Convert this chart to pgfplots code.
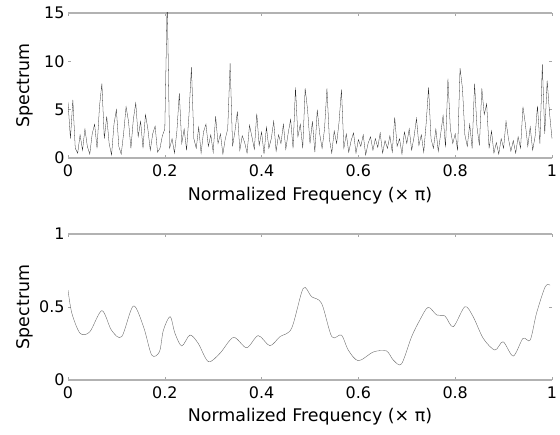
\documentclass[border=0pt]{standalone}
\usepackage{pgfplots}
\pgfplotsset{compat=1.18}
\usepackage{pgfplotstable}
\usepackage{fontspec}
\setmainfont{DejaVu Sans}
\pgfplotstableread{
x y
0.000 5.8
0.005 2.0
0.010 6.0
0.015 1.0
0.020 0.5
0.025 2.4
0.030 0.8
0.035 3.0
0.040 1.2
0.045 0.4
0.050 2.5
0.055 3.5
0.060 1.0
0.065 5.3
0.070 7.7
0.075 2.0
0.080 4.3
0.085 1.5
0.090 0.3
0.095 3.5
0.100 5.0
0.105 1.2
0.110 0.4
0.115 2.6
0.120 5.3
0.125 3.8
0.130 1.0
0.135 4.0
0.140 5.7
0.145 2.2
0.150 3.8
0.155 1.0
0.160 4.5
0.165 3.0
0.170 0.8
0.175 2.5
0.180 3.3
0.185 0.6
0.190 1.0
0.195 2.3
0.200 3.0
0.205 16.5
0.210 1.0
0.215 2.0
0.220 0.5
0.225 2.8
0.230 6.7
0.235 1.5
0.240 3.0
0.245 0.8
0.250 4.5
0.255 9.4
0.260 2.0
0.265 1.0
0.270 3.2
0.275 0.5
0.280 2.7
0.285 3.5
0.290 1.2
0.295 2.4
0.300 0.6
0.305 4.3
0.310 1.5
0.315 2.5
0.320 0.4
0.325 2.0
0.330 3.0
0.335 9.8
0.340 1.2
0.345 2.8
0.350 4.8
0.355 0.8
0.360 2.3
0.365 1.6
0.370 0.5
0.375 3.4
0.380 2.2
0.385 0.9
0.390 4.6
0.395 1.3
0.400 2.7
0.405 0.4
0.410 3.2
0.415 1.0
0.420 2.0
0.425 3.8
0.430 0.7
0.435 2.4
0.440 1.5
0.445 3.5
0.450 0.9
0.455 2.6
0.460 4.0
0.465 1.0
0.470 7.3
0.475 2.2
0.480 3.5
0.485 1.0
0.490 7.2
0.495 5.0
0.500 1.5
0.505 3.8
0.510 0.6
0.515 5.0
0.520 2.5
0.525 1.0
0.530 3.0
0.535 7.2
0.540 2.0
0.545 0.5
0.550 2.8
0.555 1.5
0.560 3.7
0.565 7.1
0.570 1.0
0.575 2.5
0.580 0.6
0.585 1.8
0.590 2.6
0.595 0.5
0.600 1.9
0.605 1.2
0.610 2.4
0.615 0.3
0.620 1.5
0.625 2.2
0.630 0.8
0.635 2.0
0.640 1.1
0.645 2.6
0.650 0.5
0.655 1.8
0.660 1.0
0.665 2.3
0.670 0.6
0.675 4.2
0.680 1.2
0.685 2.0
0.690 0.4
0.695 2.7
0.700 1.5
0.705 3.0
0.710 0.8
0.715 2.2
0.720 4.1
0.725 1.3
0.730 2.4
0.735 0.6
0.740 3.6
0.745 7.3
0.750 2.0
0.755 1.0
0.760 3.0
0.765 0.7
0.770 2.5
0.775 4.4
0.780 1.1
0.785 8.2
0.790 3.0
0.795 1.5
0.800 2.5
0.805 0.8
0.810 9.3
0.815 7.2
0.820 2.4
0.825 1.2
0.830 3.5
0.835 1.0
0.840 7.7
0.845 3.2
0.850 1.3
0.855 7.2
0.860 4.5
0.865 5.6
0.870 1.0
0.875 2.8
0.880 0.5
0.885 1.6
0.890 0.4
0.895 2.0
0.900 1.0
0.905 3.8
0.910 2.0
0.915 0.7
0.920 1.8
0.925 0.5
0.930 2.2
0.935 1.0
0.940 5.3
0.945 3.5
0.950 1.2
0.955 3.2
0.960 0.8
0.965 2.2
0.970 5.4
0.975 1.5
0.980 9.7
0.985 2.5
0.990 8.0
0.995 4.6
1.000 2.0
}\periodogram
\pgfplotstableread{
x y
0.000 0.616
0.008 0.457
0.025 0.320
0.045 0.330
0.070 0.475
0.090 0.340
0.111 0.297
0.135 0.507
0.156 0.365
0.173 0.171
0.189 0.194
0.197 0.340
0.211 0.434
0.221 0.320
0.235 0.233
0.252 0.308
0.269 0.251
0.290 0.126
0.314 0.183
0.342 0.292
0.369 0.221
0.393 0.304
0.417 0.235
0.438 0.297
0.462 0.354
0.486 0.628
0.503 0.571
0.524 0.525
0.545 0.297
0.565 0.308
0.579 0.205
0.600 0.132
0.631 0.192
0.658 0.199
0.672 0.137
0.689 0.110
0.710 0.297
0.727 0.411
0.744 0.498
0.762 0.445
0.779 0.438
0.796 0.365
0.820 0.502
0.837 0.434
0.858 0.285
0.882 0.205
0.899 0.262
0.920 0.164
0.940 0.285
0.955 0.274
0.968 0.457
0.986 0.639
0.996 0.650
}\smoothspec
\pgfplotsset{
  myax/.style={
    scale only axis, width=484bp,
    xmin=0, xmax=1,
    xtick={0,0.2,0.4,0.6,0.8,1},
    xticklabels={0,0.2,0.4,0.6,0.8,1},
    separate axis lines,
    x axis line style={draw=gray!60, line width=1.1pt},
    y axis line style={draw=none},
    tick align=inside,
    major tick length=3bp,
    tick style={gray!70, line width=0.6pt},
    ticklabel style={font=\fontsize{16}{18}\selectfont},
    label style={font=\fontsize{17.5}{20}\selectfont},
    xticklabel style={yshift=-3bp},
    /pgf/number format/assume math mode=true,
    xlabel={Normalized Frequency (× π)},
    ylabel={Spectrum},
    ylabel style={at={(axis description cs:-0.0888,0.5)}, anchor=center},
  }
}
\begin{document}
\begin{tikzpicture}
\path[use as bounding box] (0bp,0bp) rectangle (560bp,435bp);
\begin{axis}[myax, at={(68bp,277bp)}, anchor=south west, height=145bp,
  ymin=0, ymax=15, ytick={0,5,10,15}, yticklabels={0,5,10,15},
  xlabel style={at={(axis description cs:0.5,-0.262)}, anchor=center}]
\addplot[black!85, line width=0.28pt] table[x=x,y=y] {\periodogram};
\end{axis}
\begin{axis}[myax, at={(68bp,55bp)}, anchor=south west, height=146bp,
  ymin=0, ymax=1, ytick={0,0.5,1}, yticklabels={0,0.5,1},
  xlabel style={at={(axis description cs:0.5,-0.25)}, anchor=center}]
\addplot[gray!85!black, line width=0.4pt, smooth, tension=0.5] table[x=x,y=y] {\smoothspec};
\end{axis}
\end{tikzpicture}
\end{document}
